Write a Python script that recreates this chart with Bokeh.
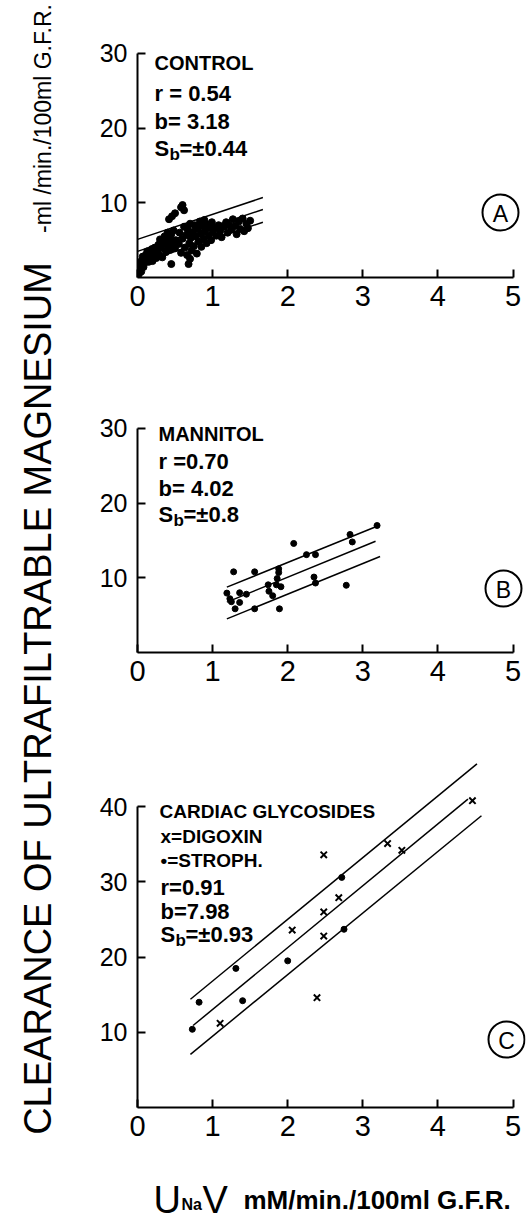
import numpy as np
from bokeh.plotting import figure
from bokeh.layouts import row, column
from bokeh.models import Range1d, Label, FixedTicker
from bokeh.embed import file_html
from bokeh.resources import INLINE

# ---------------- data ----------------
x_ticks = [0, 1, 2, 3, 4, 5]
y_ticks_ab = [10, 20, 30]
y_ticks_c = [10, 20, 30, 40]

# Panel A : control
ctrl_x = [0.02, 0.03, 0.04, 0.02, 0.05, 0.06, 0.08, 0.07, 0.10, 0.11, 0.12, 0.13, 0.15, 0.16,
          0.18, 0.19, 0.20, 0.22, 0.23, 0.25, 0.26, 0.28, 0.29, 0.30, 0.32, 0.33, 0.35, 0.36,
          0.38, 0.39, 0.40, 0.41, 0.43, 0.44, 0.45, 0.47, 0.48, 0.50, 0.51,
          0.42, 0.46, 0.50, 0.58, 0.62, 0.60,
          0.45, 0.68, 0.70,
          0.55, 0.56, 0.58, 0.60, 0.62, 0.63, 0.65, 0.66, 0.67, 0.69, 0.70, 0.71, 0.72, 0.74,
          0.75, 0.76, 0.78, 0.79, 0.80, 0.81, 0.83, 0.84, 0.85, 0.87, 0.88, 0.89, 0.90, 0.92,
          0.93, 0.95, 0.96, 0.98, 0.99, 1.00,
          1.03, 1.05, 1.08, 1.10, 1.12, 1.15, 1.18, 1.20, 1.22, 1.25, 1.27, 1.30, 1.32, 1.35,
          1.37, 1.40, 1.42, 1.45, 1.47, 1.50]
ctrl_y = [0.5, 1.0, 1.6, 2.0, 0.8, 2.3, 1.4, 2.8, 2.0, 3.0, 2.4, 3.5, 2.1, 3.0,
          2.6, 3.8, 2.2, 3.2, 4.0, 2.6, 3.6, 4.4, 3.0, 5.1, 3.9, 2.7, 4.6, 5.5,
          3.4, 4.9, 6.0, 4.1, 5.3, 3.7, 5.8, 4.6, 6.3, 3.9, 5.0,
          7.8, 8.2, 8.6, 9.4, 9.0, 9.7,
          1.8, 1.8, 2.5,
          4.5, 6.0, 3.3, 5.2, 6.8, 4.0, 5.7, 3.0, 6.4, 4.6, 7.2, 5.3, 3.6, 6.1,
          4.2, 7.0, 5.5, 3.2, 6.6, 4.8, 7.5, 5.9, 4.1, 6.9, 5.2, 7.7, 6.2, 4.6,
          7.1, 5.6, 6.7, 5.0, 7.4, 6.1,
          6.6, 5.6, 7.0, 6.2, 5.4, 6.8, 7.4, 6.0, 7.0, 6.4, 7.8, 6.9, 5.8, 7.5,
          6.5, 7.9, 6.2, 7.2, 6.6, 7.6]
ctrl_line_x0 = [0.00, 0.00, 0.08]
ctrl_line_y0 = [5.1, 3.5, 2.1]
ctrl_line_x1 = [1.67, 1.67, 1.67]
ctrl_line_y1 = [10.7, 9.1, 7.4]

# Panel B : mannitol
mann_x = [1.19, 1.23, 1.25, 1.36, 1.36, 1.28, 1.30, 1.45, 1.56, 1.56, 1.74, 1.75, 1.80, 1.88,
          1.88, 1.86, 1.85, 1.91, 1.89, 2.08, 2.25, 2.37, 2.35, 2.37, 2.78, 2.83, 2.86, 3.19]
mann_y = [7.95, 7.2, 6.8, 8.0, 6.7, 10.8, 5.85, 7.8, 10.8, 5.85, 9.06, 8.2, 7.6, 11.2,
          10.7, 9.9, 9.06, 8.8, 5.85, 14.6, 13.1, 13.1, 10.1, 9.3, 9.0, 15.8, 14.8, 17.0]
mann_line_x0 = [1.19, 1.19, 1.19]
mann_line_y0 = [8.75, 6.74, 4.5]
mann_line_x1 = [3.19, 3.17, 3.23]
mann_line_y1 = [16.9, 14.9, 12.86]

# Panel C : cardiac glycosides
dig_x = [1.10, 2.06, 2.48, 2.39, 2.48, 2.48, 2.68, 3.33, 3.52, 4.46]
dig_y = [11.2, 23.6, 33.6, 14.6, 26.0, 22.8, 27.9, 35.1, 34.2, 40.8]
stro_x = [0.73, 0.82, 1.31, 1.40, 2.00, 2.75, 2.72]
stro_y = [10.4, 14.0, 18.5, 14.2, 19.5, 23.7, 30.6]
card_line_x0 = [0.705, 0.74, 0.705]
card_line_y0 = [14.4, 10.9, 7.07]
card_line_x1 = [4.52, 4.40, 4.58]
card_line_y1 = [45.7, 41.0, 38.8]

y_title_main = "CLEARANCE OF ULTRAFILTRABLE MAGNESIUM"
y_title_unit = "-ml /min./100ml G.F.R."

FONT = "Liberation Sans"
LEFT_W = 60          # width of the y-title strip
FRAME_L = 137        # page x of every panel's frame (x = 0)
FRAME_W = 388
XSCALE = 75.1        # px per x unit
BL = FRAME_L - LEFT_W
PAGE_H = 1216


def make_panel(bt, fh, yscale, bb, y_ticks, y_bound):
    p = figure(frame_width=FRAME_W, frame_height=fh,
               x_range=Range1d(0, FRAME_W / XSCALE), y_range=Range1d(0, fh / yscale),
               output_backend="svg", toolbar_location=None,
               min_border_left=BL, min_border_right=1,
               min_border_top=bt, min_border_bottom=bb)
    p.outline_line_color = None
    p.grid.visible = False
    for ax in (p.xaxis[0], p.yaxis[0]):
        ax.axis_line_width = 2
        ax.axis_line_color = "black"
        ax.major_tick_line_width = 2
        ax.major_tick_line_color = "black"
        ax.major_tick_in = 8
        ax.major_tick_out = 0
        ax.minor_tick_line_color = None
        ax.major_label_text_font = FONT
        ax.major_label_text_color = "black"
    p.xaxis[0].ticker = FixedTicker(ticks=x_ticks)
    p.xaxis[0].bounds = (0, 5)
    p.xaxis[0].major_label_text_font_size = "29px"
    p.xaxis[0].major_label_standoff = 8
    p.yaxis[0].ticker = FixedTicker(ticks=y_ticks)
    p.yaxis[0].bounds = (0, y_bound)
    p.yaxis[0].major_label_text_font_size = "25px"
    p.yaxis[0].major_label_standoff = 10
    return p


def blank(w, h, bl=0):
    p = figure(frame_width=w, frame_height=h, x_range=Range1d(0, w), y_range=Range1d(0, h),
               output_backend="svg", toolbar_location=None, title=None,
               x_axis_location=None, y_axis_location=None,
               min_border_left=bl, min_border_right=0, min_border_top=0, min_border_bottom=0)
    p.outline_line_color = None
    p.grid.visible = False
    return p


def title_strip(fh, bb, text, size, standoff):
    # narrow figure whose (invisible) left axis carries a rotated title
    p = figure(frame_width=2, frame_height=fh, x_range=Range1d(0, 1), y_range=Range1d(0, 1),
               output_backend="svg", toolbar_location=None, title=None,
               x_axis_location=None, y_axis_location="left",
               min_border_left=LEFT_W - 2, min_border_right=0,
               min_border_top=0, min_border_bottom=bb)
    p.outline_line_color = None
    p.grid.visible = False
    ax = p.yaxis[0]
    ax.ticker = FixedTicker(ticks=[])
    ax.axis_line_color = None
    ax.major_tick_line_color = None
    ax.minor_tick_line_color = None
    ax.major_label_text_color = None
    ax.axis_label = text
    ax.axis_label_text_font = FONT
    ax.axis_label_text_font_size = f"{size}px"
    ax.axis_label_text_font_style = "normal"
    ax.axis_label_text_color = "black"
    ax.axis_label_standoff = standoff
    return p


def add_text(p, x, y, text, size, bold=False, align="left", baseline="alphabetic"):
    p.add_layout(Label(x=x, y=y, text=text, text_font=FONT,
                       text_font_size=f"{size}px",
                       text_font_style="bold" if bold else "normal",
                       text_color="black", text_align=align, text_baseline=baseline))


def add_stats(p, conv, px, py0, lines, sb_text, step=28):
    fx, fy = conv
    for i, t in enumerate(lines):
        add_text(p, fx(px), fy(py0 + i * step), t, 22, bold=True)
    py = py0 + len(lines) * step - 1
    add_text(p, fx(px), fy(py), "S", 22, bold=True)
    add_text(p, fx(px + 15), fy(py + 6), "b", 17, bold=True)
    add_text(p, fx(px + 25), fy(py), sb_text, 22, bold=True)


def add_tag(p, conv, px, py, letter):
    fx, fy = conv
    p.scatter([fx(px)], [fy(py)], marker="circle", size=36, fill_color=None,
              line_color="black", line_width=2)
    add_text(p, fx(px), fy(py + 1), letter, 23, align="center", baseline="middle")


xconv = lambda px: (px - FRAME_L) / XSCALE

# ---------------- Panel A ----------------   frame 40..277 (page y)
pa = make_panel(40, 237, 7.47, 106, y_ticks_ab, 30)
conv_a = (xconv, lambda py: (277 - py) / 7.47)
pa.segment(ctrl_line_x0, ctrl_line_y0, ctrl_line_x1, ctrl_line_y1, line_color="black", line_width=1.5)
pa.scatter(ctrl_x, ctrl_y, marker="circle", size=7, color="black")
add_text(pa, xconv(154), conv_a[1](62), "CONTROL", 20, bold=True)
add_stats(pa, conv_a, 154, 93, ["r = 0.54", "b= 3.18"], "=±0.44", step=28)
add_tag(pa, conv_a, 500, 212, "A")

# ---------------- Panel B ----------------   frame 415..652
pb = make_panel(32, 237, 7.47, 96, y_ticks_ab, 30)
conv_b = (xconv, lambda py: (652 - py) / 7.47)
pb.segment(mann_line_x0, mann_line_y0, mann_line_x1, mann_line_y1, line_color="black", line_width=1.5)
pb.scatter(mann_x, mann_y, marker="circle", size=6, color="black")
add_text(pb, xconv(158), conv_b[1](433), "MANNITOL", 20, bold=True)
add_stats(pb, conv_b, 158, 461, ["r =0.70", "b= 4.02"], "=±0.8", step=27)
add_tag(pb, conv_b, 503, 588, "B")

# ---------------- Panel C ----------------   frame 758..1107
pc = make_panel(10, 349, 7.52, 44, y_ticks_c, 40)
conv_c = (xconv, lambda py: (1107 - py) / 7.52)
pc.segment(card_line_x0, card_line_y0, card_line_x1, card_line_y1, line_color="black", line_width=1.5)
pc.scatter(stro_x, stro_y, marker="circle", size=6, color="black")
pc.scatter(dig_x, dig_y, marker="x", size=9, line_color="black", line_width=2)
fx, fy = conv_c
add_text(pc, fx(159), fy(811), "CARDIAC GLYCOSIDES", 19, bold=True)
add_text(pc, fx(160), fy(836), "x=DIGOXIN", 19, bold=True)
add_text(pc, fx(160), fy(860), "•=STROPH.", 19, bold=True)
add_stats(pc, conv_c, 160, 887, ["r=0.91", "b=7.98"], "=±0.93", step=24)
add_tag(pc, conv_c, 506, 1039, "C")

# ---------------- x-axis title strip ----------------   page y 1151..1216
XL_TOP = 1151
XL_H = 65
px_ = blank(FRAME_W, XL_H, bl=BL)
gx = lambda page_x: page_x - FRAME_L
gy = lambda page_y: XL_H - (page_y - XL_TOP)
add_text(px_, gx(153), gy(1199), "U", 38)
add_text(px_, gx(181), gy(1204), "Na", 16, bold=True)
add_text(px_, gx(202), gy(1199), "V", 38)
add_text(px_, gx(243), gy(1199), "mM/min./100ml G.F.R.", 26, bold=True)

# ---------------- shared y-axis title (two stacked strips) ----------------
TOP_H = 236
pl_top = title_strip(TOP_H, 0, y_title_unit, 23, 3)
pl_main = title_strip(PAGE_H - TOP_H - 56, 56, y_title_main, 38, 0)

layout = row(column(pl_top, pl_main), column(pa, pb, pc, px_))
open("out.html", "w").write(file_html(layout, INLINE))
